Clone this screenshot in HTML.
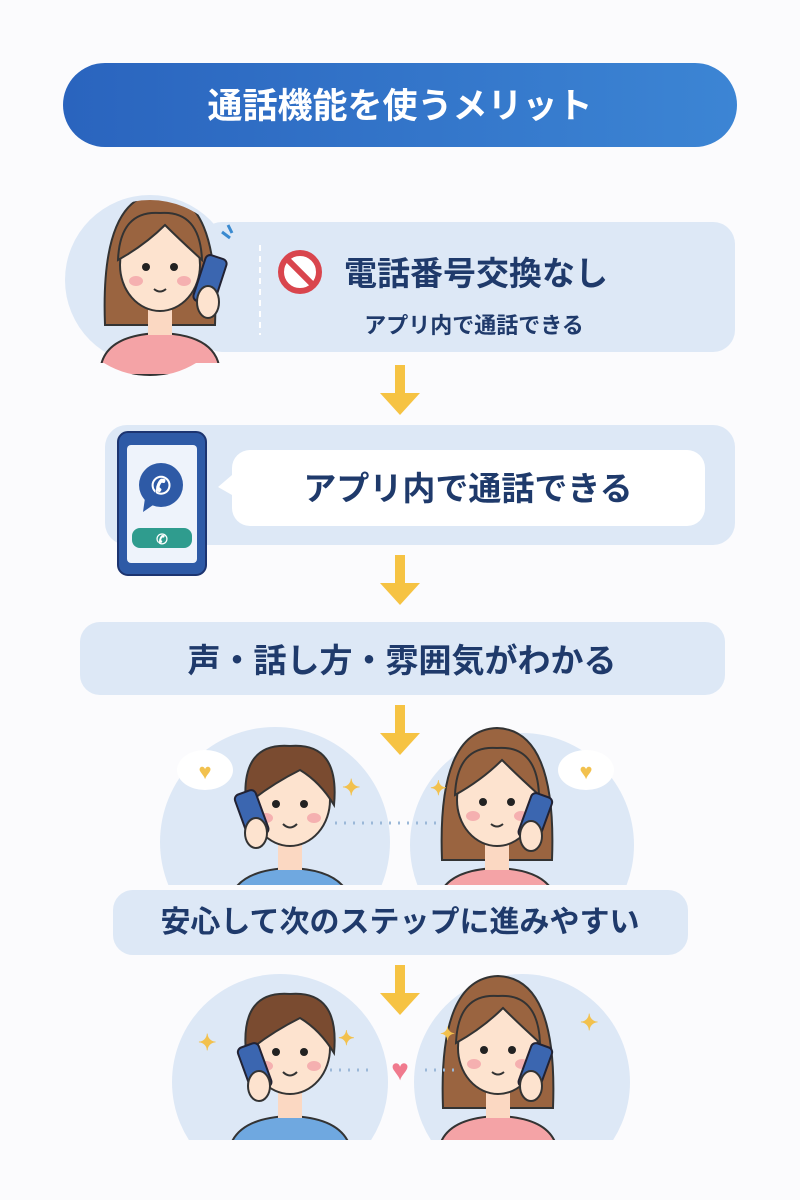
<!DOCTYPE html>
<html><head><meta charset="utf-8"><style>
body{margin:0;background:#fbfbfd;}
svg{display:block}
text{font-family:"Liberation Sans","Noto Sans CJK JP",sans-serif;font-weight:bold;fill:#1f3a6b}
</style></head><body>
<svg width="800" height="1200" viewBox="0 0 800 1200" xmlns="http://www.w3.org/2000/svg">
<defs>
<linearGradient id="tg" x1="0" x2="1"><stop offset="0" stop-color="#2a64be"/><stop offset="1" stop-color="#3c85d4"/></linearGradient>
<g id="arrow"><rect x="-5" y="0" width="10" height="30" fill="#f6c343"/><polygon points="-20,28 20,28 0,50" fill="#f6c343"/></g>
<g id="girl">
 <path d="M-55,60 Q-60,-70 0,-72 Q60,-70 55,60 Z" fill="#9a6440" stroke="#333" stroke-width="2"/>
 <path d="M-60,110 Q-60,70 0,68 Q60,70 60,110 Z" fill="#f4a3a6" stroke="#333" stroke-width="2"/>
 <rect x="-12" y="40" width="24" height="30" fill="#fbd8c2"/>
 <ellipse cx="0" cy="0" rx="40" ry="46" fill="#fde3cf" stroke="#333" stroke-width="2"/>
 <path d="M-42,-5 Q-40,-55 0,-52 Q40,-55 42,-5 Q20,-25 5,-40 Q-15,-20 -42,-5Z" fill="#9a6440" stroke="#333" stroke-width="2"/>
 <circle cx="-14" cy="2" r="4" fill="#222"/><circle cx="14" cy="2" r="4" fill="#222"/>
 <ellipse cx="-24" cy="16" rx="7" ry="5" fill="#f5b0b0"/><ellipse cx="24" cy="16" rx="7" ry="5" fill="#f5b0b0"/>
 <path d="M-6,24 Q0,29 6,24" stroke="#333" stroke-width="2" fill="none"/>
</g>
<g id="boy">
 <path d="M-62,110 Q-60,70 0,68 Q60,70 62,110 Z" fill="#6fa8e0" stroke="#333" stroke-width="2"/>
 <rect x="-12" y="40" width="24" height="30" fill="#fbd8c2"/>
 <ellipse cx="0" cy="0" rx="40" ry="46" fill="#fde3cf" stroke="#333" stroke-width="2"/>
 <path d="M-44,5 Q-50,-58 0,-54 Q50,-58 44,5 Q30,-18 10,-30 Q-20,-15 -44,5Z" fill="#7a4b30" stroke="#333" stroke-width="2"/>
 <circle cx="-14" cy="4" r="4" fill="#222"/><circle cx="14" cy="4" r="4" fill="#222"/>
 <ellipse cx="-24" cy="18" rx="7" ry="5" fill="#f5b0b0"/><ellipse cx="24" cy="18" rx="7" ry="5" fill="#f5b0b0"/>
 <path d="M-7,24 Q0,31 7,24" stroke="#333" stroke-width="2" fill="none"/>
</g>
<clipPath id="c1"><rect x="0" y="0" width="800" height="885"/></clipPath>
<clipPath id="c2"><rect x="0" y="960" width="800" height="180"/></clipPath>
<clipPath id="cc1"><circle cx="150" cy="288" r="88"/><rect x="60" y="288" width="180" height="75"/></clipPath>
</defs>

<rect x="63" y="63" width="674" height="84" rx="42" fill="url(#tg)"/>
<text x="400" y="118" text-anchor="middle" font-size="35" style="fill:#fff">通話機能を使うメリット</text>

<!-- card 1 -->
<rect x="200" y="222" width="535" height="130" rx="22" fill="#dde8f6"/>
<circle cx="150" cy="280" r="85" fill="#dde8f6"/>
<g clip-path="url(#cc1)"><use href="#girl" transform="translate(160,265)"/></g>
<g transform="translate(210,280)"><rect x="-11" y="-24" width="22" height="48" rx="5" fill="#3b66b0" stroke="#223" stroke-width="2" transform="rotate(18)"/><ellipse cx="-2" cy="22" rx="11" ry="16" fill="#fde3cf" stroke="#333" stroke-width="2"/></g>
<path d="M222,232 l8,6 M228,225 l4,8" stroke="#3a8ad0" stroke-width="3"/>
<line x1="260" y1="245" x2="260" y2="335" stroke="#fff" stroke-width="2" stroke-dasharray="6 5"/>
<circle cx="300" cy="272" r="19" fill="#fff" stroke="#d9454d" stroke-width="6"/>
<line x1="287" y1="259" x2="313" y2="285" stroke="#d9454d" stroke-width="6"/>
<text x="344" y="285" font-size="33">電話番号交換なし</text>
<text x="474" y="333" text-anchor="middle" font-size="22">アプリ内で通話できる</text>

<use href="#arrow" transform="translate(400,365)"/>

<!-- card 2 -->
<rect x="105" y="425" width="630" height="120" rx="22" fill="#dde8f6"/>
<rect x="118" y="432" width="88" height="143" rx="10" fill="#2e5aa6" stroke="#1c3470" stroke-width="2"/>
<rect x="127" y="445" width="70" height="118" rx="4" fill="#eef3fb"/>
<circle cx="161" cy="485" r="22" fill="#2e5aa6"/>
<polygon points="145,498 143,512 156,503" fill="#2e5aa6"/>
<text x="161" y="494" text-anchor="middle" font-size="24" style="fill:#fff">✆</text>
<rect x="132" y="528" width="60" height="20" rx="8" fill="#2f9c8e"/>
<text x="162" y="544" text-anchor="middle" font-size="14" style="fill:#fff">✆</text>
<path d="M232,475 L218,487 L232,495 Z" fill="#fff"/>
<rect x="232" y="450" width="473" height="76" rx="18" fill="#fff"/>
<text x="468" y="500" text-anchor="middle" font-size="33">アプリ内で通話できる</text>

<use href="#arrow" transform="translate(400,555)"/>

<!-- card 3 -->
<rect x="80" y="622" width="645" height="73" rx="20" fill="#dde8f6"/>
<text x="402" y="672" text-anchor="middle" font-size="33">声・話し方・雰囲気がわかる</text>

<!-- couple 1 -->
<g clip-path="url(#c1)">
<circle cx="275" cy="842" r="115" fill="#dde8f6"/>
<circle cx="522" cy="845" r="112" fill="#dde8f6"/>
<use href="#boy" transform="translate(290,800)"/>
<use href="#girl" transform="translate(497,800)"/>
</g>
<use href="#arrow" transform="translate(400,705)"/>
<g transform="translate(252,815)"><rect x="-11" y="-24" width="22" height="46" rx="5" fill="#3b66b0" stroke="#223" stroke-width="2" transform="rotate(-20)"/><ellipse cx="4" cy="18" rx="11" ry="15" fill="#fde3cf" stroke="#333" stroke-width="2"/></g>
<g transform="translate(535,818)"><rect x="-11" y="-24" width="22" height="46" rx="5" fill="#3b66b0" stroke="#223" stroke-width="2" transform="rotate(20)"/><ellipse cx="-4" cy="18" rx="11" ry="15" fill="#fde3cf" stroke="#333" stroke-width="2"/></g>
<ellipse cx="205" cy="770" rx="28" ry="20" fill="#fff"/><text x="205" y="779" text-anchor="middle" font-size="22" style="fill:#f2c14e">♥</text>
<ellipse cx="586" cy="770" rx="28" ry="20" fill="#fff"/><text x="586" y="779" text-anchor="middle" font-size="22" style="fill:#f2c14e">♥</text>
<text x="342" y="795" font-size="22" style="fill:#f2c14e">✦</text>
<text x="430" y="795" font-size="20" style="fill:#f2c14e">✦</text>
<line x1="335" y1="823" x2="440" y2="823" stroke="#9bb8d8" stroke-width="3" stroke-dasharray="2 7"/>

<rect x="113" y="890" width="575" height="65" rx="20" fill="#dde8f6"/>
<text x="400" y="932" text-anchor="middle" font-size="30">安心して次のステップに進みやすい</text>

<!-- couple 2 -->
<g clip-path="url(#c2)">
<circle cx="280" cy="1082" r="108" fill="#dde8f6"/>
<circle cx="522" cy="1082" r="108" fill="#dde8f6"/>
<use href="#boy" transform="translate(290,1048)"/>
<use href="#girl" transform="translate(498,1048)"/>
</g>
<use href="#arrow" transform="translate(400,965)"/>
<g transform="translate(255,1068)"><rect x="-11" y="-24" width="22" height="46" rx="5" fill="#3b66b0" stroke="#223" stroke-width="2" transform="rotate(-20)"/><ellipse cx="4" cy="18" rx="11" ry="15" fill="#fde3cf" stroke="#333" stroke-width="2"/></g>
<g transform="translate(535,1068)"><rect x="-11" y="-24" width="22" height="46" rx="5" fill="#3b66b0" stroke="#223" stroke-width="2" transform="rotate(20)"/><ellipse cx="-4" cy="18" rx="11" ry="15" fill="#fde3cf" stroke="#333" stroke-width="2"/></g>
<line x1="330" y1="1070" x2="375" y2="1070" stroke="#9bb8d8" stroke-width="3" stroke-dasharray="2 7"/>
<line x1="425" y1="1070" x2="455" y2="1070" stroke="#9bb8d8" stroke-width="3" stroke-dasharray="2 7"/>
<text x="400" y="1080" text-anchor="middle" font-size="30" style="fill:#f07a8e">♥</text>
<text x="198" y="1050" font-size="22" style="fill:#f2c14e">✦</text>
<text x="338" y="1045" font-size="20" style="fill:#f2c14e">✦</text>
<text x="440" y="1040" font-size="18" style="fill:#f2c14e">✦</text>
<text x="580" y="1030" font-size="22" style="fill:#f2c14e">✦</text>
</svg>
</body></html>
